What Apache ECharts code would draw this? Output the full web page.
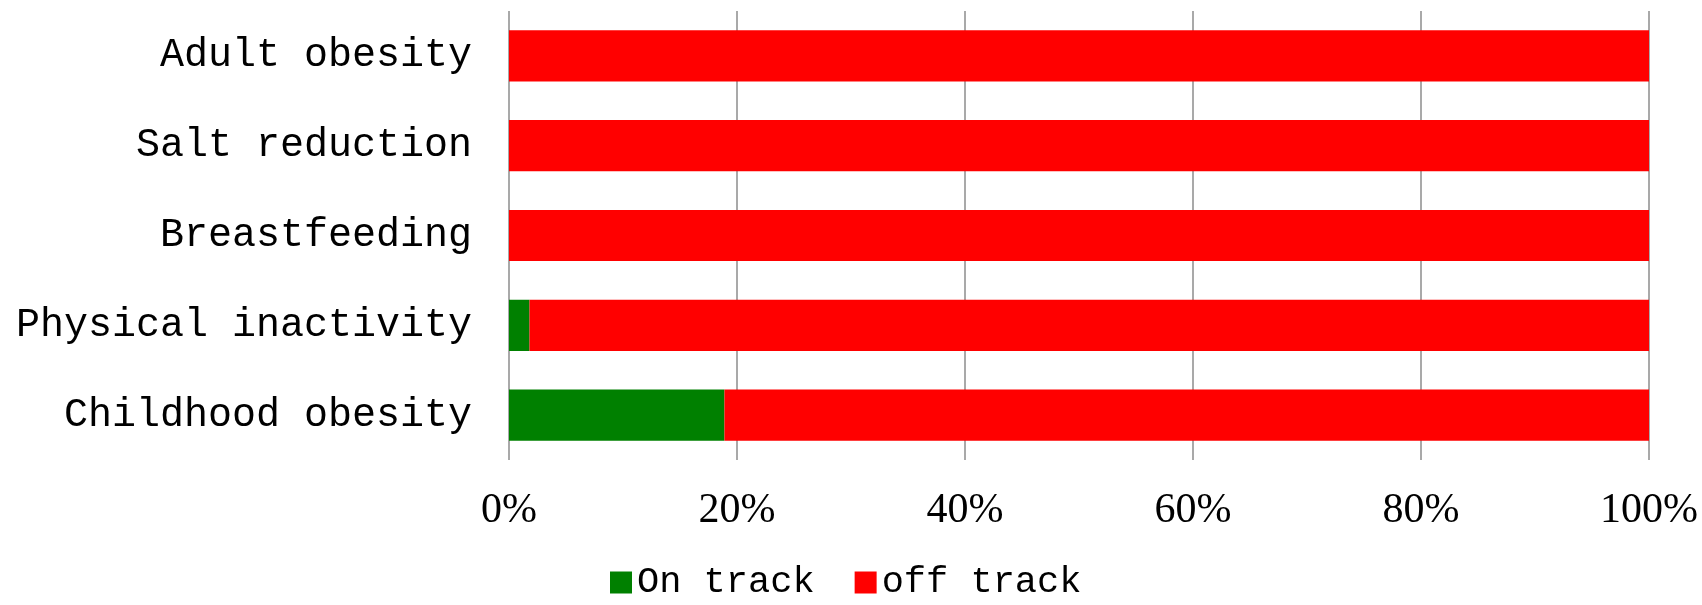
<!DOCTYPE html>
<html>
<head>
<meta charset="utf-8">
<script src="https://cdn.jsdelivr.net/npm/echarts@6/dist/echarts.min.js"></script>
<style>html,body{margin:0;padding:0;background:#fff;}#c{width:1702px;height:605px;}</style>
</head>
<body>
<div id="c"></div>
<script>
const categories = ["Childhood obesity", "Physical inactivity", "Breastfeeding", "Salt reduction", "Adult obesity"];
const onTrack = [18.9, 1.8, 0, 0, 0];
const offTrack = [81.1, 98.2, 100, 100, 100];
const xTicks = [0, 20, 40, 60, 80, 100];

const chart = echarts.init(document.getElementById('c'), null, {renderer: 'canvas'});
chart.setOption({
  animation: false,
  backgroundColor: '#ffffff',
  grid: {left: 509, right: 53, top: 11, bottom: 145, containLabel: false},
  legend: {
    data: ['On track', 'off track'],
    top: 564,
    left: 610,
    padding: 0,
    itemWidth: 22,
    itemHeight: 22,
    itemGap: 40,
    icon: 'rect',
    textStyle: {fontFamily: 'Liberation Mono', fontSize: 37, color: '#000', padding: [0, 0, 0, 0]}
  },
  xAxis: {
    type: 'value',
    min: xTicks[0],
    max: xTicks[xTicks.length - 1],
    interval: 20,
    axisLine: {show: false},
    axisTick: {show: false},
    splitLine: {show: true, lineStyle: {color: '#8c8c8c', width: 1.5}},
    axisLabel: {
      formatter: v => v + '%',
      fontFamily: 'Liberation Serif',
      fontSize: 42,
      color: '#000',
      margin: 30
    }
  },
  yAxis: {
    type: 'category',
    data: categories,
    axisLine: {show: false},
    axisTick: {show: false},
    axisLabel: {fontFamily: 'Liberation Mono', fontSize: 40, color: '#000', margin: 37}
  },
  series: [
    {name: 'On track', type: 'bar', stack: 't', data: onTrack, barCategoryGap: '43%',
     itemStyle: {color: '#008000'}},
    {name: 'off track', type: 'bar', stack: 't', data: offTrack, barCategoryGap: '43%',
     itemStyle: {color: '#ff0000'}}
  ]
});
</script>
</body>
</html>
